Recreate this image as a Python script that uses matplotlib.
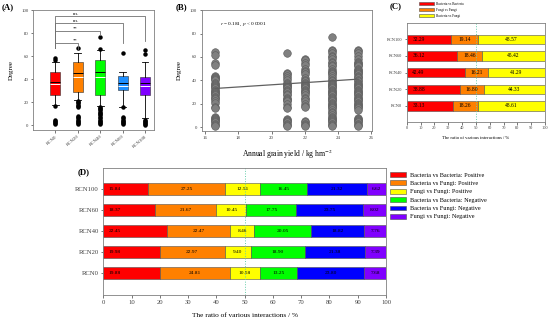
import numpy as np
import matplotlib
matplotlib.use('Agg')
import matplotlib.pyplot as plt
from matplotlib.patches import Patch

plt.rcParams['font.family'] = ['Liberation Serif', 'DejaVu Serif']
plt.rcParams['mathtext.fontset'] = 'stix'

W, H = 550, 323

# ---- panel A: degree box plots ----
groups = ['RCN0', 'RCN20', 'RCN40', 'RCN60', 'RCN100']
box_colors = ['#ff0000', '#ff8000', '#00ff00', '#1e8fff', '#8000ff']
box_med = [38, 45, 46, 37, 37]
box_mean = [36, 42, 42, 34, 34]
box_q1 = [26, 29, 26, 31, 26]
box_q3 = [46, 55, 57, 43, 42]
box_lo = [18, 22, 17, 16, 6]
box_hi = [54.5, 63, 65.5, 46, 54.5]
box_fliers = [
    [58, 57, 17, 5, 4, 3, 2, 1.5],
    [67, 21, 20, 19, 18, 17, 16, 8, 7, 6, 5, 4, 3, 2, 1],
    [77, 66, 16, 15, 14, 13, 12, 11, 10, 9, 7, 6, 5, 4, 3, 2, 1],
    [63, 16, 7, 6, 5, 4, 3, 2, 1],
    [65, 62, 5, 4, 3, 2, 1, 0.5],
]
sig_pairs = [(1, 2), (1, 3), (1, 4), (1, 5)]
sig_y = [71, 82, 88.5, 94.5]
sig_drop = [66, 78.5, 71.5, 73]
sig_text = ['**', '**', 'n.s.', 'n.s.']

# ---- panel B: degree vs grain yield ----
yield_x = [16.6, 20.9, 22.0, 23.6, 25.2]
degree_cols = [
    [64, 62, 55, 53, 44, 43, 42, 41, 40, 38, 37, 36, 35, 34, 33, 32, 31, 30, 29, 28, 27,
     26, 25, 24, 22, 21, 17, 16, 9, 8, 7, 6, 5, 4, 3, 2, 1],
    [63, 46, 45, 44, 42, 40, 38, 37, 36, 35, 34, 33, 32, 31, 30, 28, 27, 25, 24, 23, 22,
     20, 17, 16, 7, 6, 5, 4, 3, 2, 1],
    [58, 57, 55, 53, 50, 48, 47, 45, 42, 40, 39, 38, 37, 36, 35, 34, 33, 32, 31, 30, 29,
     27, 25, 24, 22, 20, 18, 17, 5, 4, 3, 2, 1],
    [77, 66, 65, 63, 61, 60, 58, 56, 55, 53, 52, 50, 48, 47, 46, 45, 44, 42, 40, 39, 38,
     37, 36, 35, 34, 33, 32, 31, 30, 29, 28, 27, 26, 25, 24, 23, 22, 21, 20, 19, 18, 17,
     16, 15, 13, 12, 10, 9, 8, 7, 6, 5, 4, 3, 2, 1],
    [66, 65, 63, 61, 58, 56, 55, 54, 53, 52, 50, 49, 48, 47, 46, 45, 44, 43, 42, 40, 39,
     38, 37, 36, 35, 34, 33, 32, 31, 30, 29, 28, 27, 26, 25, 24, 23, 22, 21, 20, 19, 18,
     17, 16, 15, 8, 7, 6, 5, 4, 3, 2, 1],
]
fit_slope = 0.93
fit_icpt = 33 - 0.93 * 16.6

# ---- panel C: three interaction types ----
c_names = ['Bacteria vs Bacteria', 'Fungi vs Fungi', 'Bacteria vs Fungi']
c_colors = ['#ff0000', '#ff8000', '#ffff00']
c_vals = {
    'RCN0':   [33.13, 18.26, 48.61],
    'RCN20':  [38.88, 16.80, 44.33],
    'RCN40':  [42.49, 16.21, 41.29],
    'RCN60':  [36.12, 18.46, 45.42],
    'RCN100': [32.29, 19.14, 48.57],
}

# ---- panel D: positive / negative interactions ----
d_names = ['Bacteria vs Bacteria: Positive', 'Bacteria vs Fungi: Positive',
           'Fungi vs Fungi: Positive', 'Bacteria vs Bacteria: Negative',
           'Bacteria vs Fungi: Negative', 'Fungi vs Fungi: Negative']
d_colors = ['#ff0000', '#ff8000', '#ffff00', '#00ff00', '#0000ff', '#8000ff']
d_vals = {
    'RCN0':   [19.88, 24.81, 10.58, 13.25, 23.80, 7.68],
    'RCN20':  [19.98, 22.97, 9.40, 18.90, 21.38, 7.39],
    'RCN40':  [22.45, 22.47, 8.46, 20.05, 18.82, 7.76],
    'RCN60':  [18.37, 21.67, 10.45, 17.75, 23.75, 8.02],
    'RCN100': [15.84, 27.25, 12.51, 16.45, 21.32, 6.62],
}


def rect(l, t, r, b):
    return [l / W, 1 - b / H, (r - l) / W, (b - t) / H]


def style(ax, fs):
    for s in ax.spines.values():
        s.set_color('#808080')
        s.set_linewidth(0.6)
    ax.tick_params(labelsize=fs, length=1.8, width=0.5, pad=1.5, colors='#404040')


def stacked(ax, vals, colors, fs, lw=0.4):
    cats = list(vals.keys())
    for i, c in enumerate(cats):
        left = 0
        for j, v in enumerate(vals[c]):
            ax.barh(i, v, left=left, height=0.57, color=colors[j], edgecolor='#505050', lw=lw)
            if j == 0:
                ax.annotate(f'{v:.2f}', (left, i), xytext=(4, 0), textcoords='offset points',
                            ha='left', va='center', fontsize=fs)
            else:
                ax.text(left + v / 2, i, f'{v:.2f}', ha='center', va='center', fontsize=fs)
            left += v
    ax.set_yticks(range(len(cats)))
    ax.set_yticklabels(cats)
    ax.set_xlim(0, 100)
    ax.set_xticks(range(0, 101, 10))
    ax.axvline(50, color='#66cdaa', ls=':', lw=0.7)


fig = plt.figure(figsize=(W / 100, H / 100), dpi=100)

# (A)
axA = fig.add_axes(rect(33, 10, 154, 130))
stats = []
for i, g in enumerate(groups):
    stats.append(dict(med=box_med[i], mean=box_mean[i], q1=box_q1[i], q3=box_q3[i],
                      whislo=box_lo[i], whishi=box_hi[i], fliers=box_fliers[i], label=g))
bp = axA.bxp(stats, positions=range(1, 6), widths=0.45, capwidths=0.3, patch_artist=True,
             showmeans=True, meanline=True,
             medianprops=dict(color='black', lw=0.7),
             meanprops=dict(color='white', lw=0.7, ls='-'),
             whiskerprops=dict(color='black', lw=0.6), capprops=dict(color='black', lw=0.6),
             flierprops=dict(marker='o', markerfacecolor='black', markeredgecolor='black',
                             markersize=2.2))
for patch, col in zip(bp['boxes'], box_colors):
    patch.set_facecolor(col)
    patch.set_edgecolor('#303030')
    patch.set_linewidth(0.4)
for (a, b), y, d, t in zip(sig_pairs, sig_y, sig_drop, sig_text):
    axA.plot([a, a, b, b], [67, y, y, d], color='#707070', lw=0.6)
    axA.text(1.9, y + 0.5, t, ha='center', va='bottom', fontsize=3.3)
axA.set_xlim(0, 5.4)
axA.set_ylim(-4, 100)
axA.set_yticks(range(0, 101, 20))
axA.set_xticklabels(groups, rotation=40, ha='right', rotation_mode='anchor')
axA.set_ylabel('Degree', fontsize=5, labelpad=5)
style(axA, 3.5)
fig.text(2 / W, 1 - 7 / H, '(A)', fontsize=6.3, fontweight='bold', va='center')

# (B)
axB = fig.add_axes(rect(201.7, 10, 372.3, 131))
for x, ys in zip(yield_x, degree_cols):
    axB.scatter([x] * len(ys), ys, s=30, color='#808080', edgecolor='#5a5a5a', lw=0.4, zorder=2)
xf = np.array([yield_x[0], yield_x[-1]])
axB.plot(xf, fit_icpt + fit_slope * xf, color='#606060', lw=0.9, zorder=3)
axB.text(16.9, 88, r'$r$ = 0.181, $p$ < 0.0001', fontsize=3.8, va='center')
axB.set_xlim(15.8, 26.05)
axB.set_ylim(-3.4, 100.2)
axB.set_xticks(range(16, 27, 2))
axB.set_yticks(range(0, 101, 20))
axB.set_ylabel('Degree', fontsize=5, labelpad=6)
axB.set_xlabel('Annual grain yield / kg hm$^{-2}$', fontsize=5.5, labelpad=6)
style(axB, 3.5)
fig.text(176 / W, 1 - 7 / H, '(B)', fontsize=6.3, fontweight='bold', va='center')

# (C)
axC = fig.add_axes(rect(406.7, 22.7, 545, 121.7))
stacked(axC, c_vals, c_colors, 4.0)
axC.set_ylim(-0.95, 5.0)
axC.set_xlabel('The ratio of various interactions / %', fontsize=3.3, labelpad=4)
style(axC, 3.2)
fig.text(390 / W, 1 - 6 / H, '(C)', fontsize=6.3, fontweight='bold', va='center')
axC.legend([Patch(facecolor=c, edgecolor='#505050', lw=0.4) for c in c_colors], c_names,
           loc='upper left', bbox_to_anchor=(419 / W, 1 - 2 / H), bbox_transform=fig.transFigure,
           frameon=False, fontsize=2.4, handlelength=4.5, handleheight=0.9,
           labelspacing=0.6, borderpad=0, borderaxespad=0, handletextpad=0.6)

# (D)
axD = fig.add_axes(rect(103.3, 168.3, 386, 295))
stacked(axD, d_vals, d_colors, 3.9)
axD.set_ylim(-1.03, 5.0)
axD.set_xlabel('The ratio of various interactions / %', fontsize=5.2, labelpad=6)
style(axD, 4.8)
fig.text(78 / W, 1 - 172 / H, '(D)', fontsize=6.3, fontweight='bold', va='center')
axD.legend([Patch(facecolor=c, edgecolor='#505050', lw=0.4) for c in d_colors], d_names,
           loc='upper left', bbox_to_anchor=(390 / W, 1 - 172 / H), bbox_transform=fig.transFigure,
           frameon=False, fontsize=4.5, handlelength=2.6, handleheight=0.8,
           labelspacing=0.45, borderpad=0, borderaxespad=0, handletextpad=0.6)

plt.savefig('out.png', dpi=100)
plt.close()
